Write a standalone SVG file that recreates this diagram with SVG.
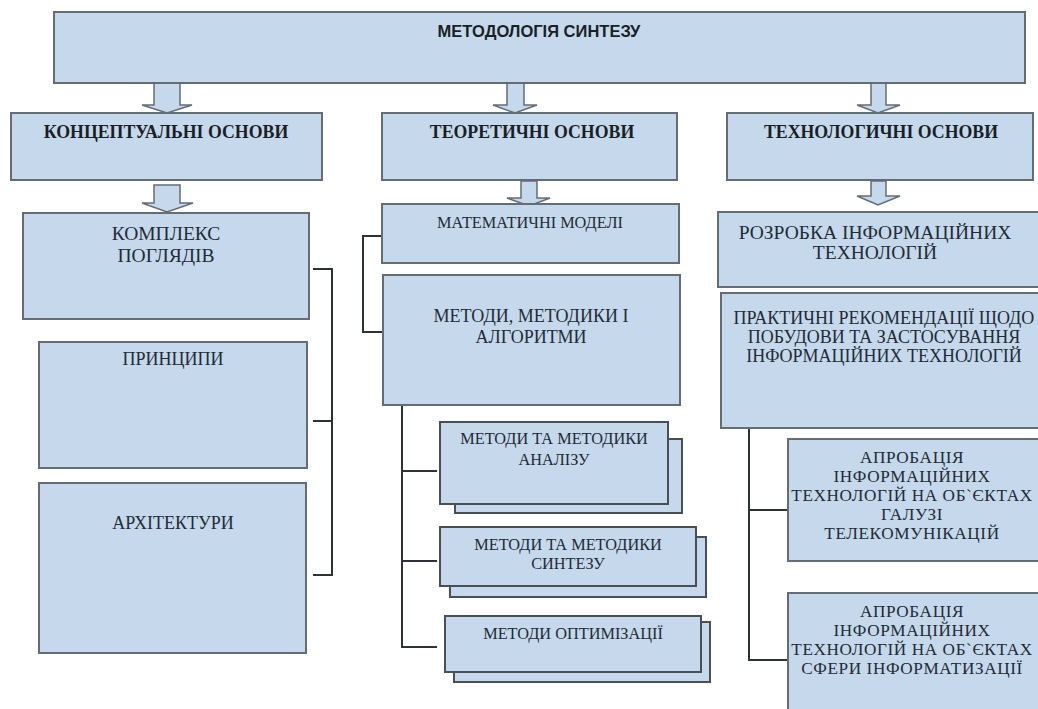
<svg xmlns="http://www.w3.org/2000/svg" width="1038" height="709" viewBox="0 0 1038 709">
  <style>
    .box { fill: #c6d9ec; stroke: #656c74; stroke-width: 2; }
    .stack { fill: #c6d9ec; stroke: #4a4f55; stroke-width: 2; }
    .arrow { fill: #c6d9ec; stroke: #656c74; stroke-width: 1.5; stroke-linejoin: miter; }
    .link { fill: none; stroke: #2e3236; stroke-width: 2; }
    .title { font-family: "Liberation Sans", Arial, sans-serif; font-weight: bold; font-size: 16.5px; fill: #1a1f26; text-anchor: middle; }
    .head { font-family: "Liberation Serif", "Times New Roman", serif; font-weight: bold; font-size: 17.8px; fill: #1a1f26; text-anchor: middle; }
    .lbl { font-family: "Liberation Serif", "Times New Roman", serif; font-size: 18px; fill: #222b36; text-anchor: middle; }
    .lg { font-size: 19.5px; }
    .md { font-size: 17.2px; letter-spacing: 0.6px; }
    .sm { font-size: 16.3px; }
  </style>

  <rect width="1038" height="709" fill="#ffffff"/>

  <!-- block arrows between levels -->
  <g id="arrows">
    <path class="arrow" d="M154,83 H180 V105 H192 L167,113 L142,105 H154 Z"/>
    <path class="arrow" d="M507,83 H524 V105 H537 L515,113 L493,105 H507 Z"/>
    <path class="arrow" d="M871,83 H886 V105 H900 L878,113 L857,105 H871 Z"/>
    <path class="arrow" d="M154,185 H180 V203 H193 L167,212 L142,203 H154 Z"/>
    <path class="arrow" d="M521,181 H537 V198 H550 L529,206 L507,198 H521 Z"/>
    <path class="arrow" d="M871,181 H886 V196 H900 L878,205 L857,196 H871 Z"/>
  </g>

  <!-- bracket connectors -->
  <g id="connectors">
    <path class="link" d="M313,269 H332 V575 H313 M313,421 H332"/>
    <path class="link" d="M382,236 H363 V332 H382"/>
    <path class="link" d="M402,405 V647 H437 M402,471 H437 M402,561 H437"/>
    <path class="link" d="M749,428 V660 H787 M749,510 H787"/>
  </g>

  <g id="methodology">
    <rect class="box" x="54" y="12" width="971" height="71"/>
    <text class="title" x="539" y="37">МЕТОДОЛОГІЯ СИНТЕЗУ</text>
  </g>

  <g id="conceptual">
    <rect class="box" x="11" y="113" width="311" height="67"/>
    <text class="head" x="166" y="138">КОНЦЕПТУАЛЬНІ ОСНОВИ</text>
  </g>
  <g id="theoretical">
    <rect class="box" x="382" y="113" width="295" height="67"/>
    <text class="head" x="532" y="138">ТЕОРЕТИЧНІ ОСНОВИ</text>
  </g>
  <g id="technological">
    <rect class="box" x="727" y="113" width="306" height="67"/>
    <text class="head" x="881" y="138">ТЕХНОЛОГИЧНІ ОСНОВИ</text>
  </g>

  <g id="views">
    <rect class="box" x="23" y="213" width="286" height="106"/>
    <text class="lbl lg" x="166" y="240">КОМПЛЕКС</text>
    <text class="lbl lg" x="166" y="262">ПОГЛЯДІВ</text>
  </g>
  <g id="principles">
    <rect class="box" x="39" y="342" width="268" height="126"/>
    <text class="lbl" x="173" y="365">ПРИНЦИПИ</text>
  </g>
  <g id="architectures">
    <rect class="box" x="39" y="483" width="267" height="170"/>
    <text class="lbl" x="173" y="529">АРХІТЕКТУРИ</text>
  </g>

  <g id="math-models">
    <rect class="box" x="382" y="204" width="297" height="59"/>
    <text class="lbl sm" x="530" y="228">МАТЕМАТИЧНІ МОДЕЛІ</text>
  </g>
  <g id="methods">
    <rect class="box" x="383" y="275" width="297" height="130"/>
    <text class="lbl" x="531" y="322">МЕТОДИ, МЕТОДИКИ І</text>
    <text class="lbl" x="531" y="343">АЛГОРИТМИ</text>
  </g>
  <g id="analysis">
    <rect class="stack" x="455" y="439" width="227" height="74"/>
    <rect class="stack" x="440" y="422" width="228" height="82"/>
    <text class="lbl sm" x="554" y="444">МЕТОДИ ТА МЕТОДИКИ</text>
    <text class="lbl sm" x="554" y="465">АНАЛІЗУ</text>
  </g>
  <g id="synthesis">
    <rect class="stack" x="450" y="537" width="256" height="60"/>
    <rect class="stack" x="440" y="527" width="256" height="59"/>
    <text class="lbl sm" x="568" y="550">МЕТОДИ ТА МЕТОДИКИ</text>
    <text class="lbl sm" x="568" y="569">СИНТЕЗУ</text>
  </g>
  <g id="optimization">
    <rect class="stack" x="454" y="622" width="256" height="60"/>
    <rect class="stack" x="445" y="616" width="256" height="56"/>
    <text class="lbl sm" x="573" y="639">МЕТОДИ ОПТИМІЗАЦІЇ</text>
  </g>

  <g id="it-development">
    <rect class="box" x="718" y="212" width="330" height="75"/>
    <text class="lbl lg" x="875" y="239">РОЗРОБКА ІНФОРМАЦІЙНИХ</text>
    <text class="lbl lg" x="875" y="259">ТЕХНОЛОГІЙ</text>
  </g>
  <g id="recommendations">
    <rect class="box" x="721" y="293" width="330" height="135"/>
    <text class="lbl" x="884" y="324">ПРАКТИЧНІ РЕКОМЕНДАЦІЇ ЩОДО</text>
    <text class="lbl" x="884" y="343">ПОБУДОВИ ТА ЗАСТОСУВАННЯ</text>
    <text class="lbl" x="884" y="362">ІНФОРМАЦІЙНИХ ТЕХНОЛОГІЙ</text>
  </g>
  <g id="telecom">
    <rect class="box" x="788" y="439" width="260" height="122"/>
    <text class="lbl md" x="912" y="463">АПРОБАЦІЯ</text>
    <text class="lbl md" x="912" y="482">ІНФОРМАЦІЙНИХ</text>
    <text class="lbl md" x="912" y="501">ТЕХНОЛОГІЙ НА ОБ`ЄКТАХ</text>
    <text class="lbl md" x="912" y="520">ГАЛУЗІ</text>
    <text class="lbl md" x="912" y="539">ТЕЛЕКОМУНІКАЦІЙ</text>
  </g>
  <g id="informatization">
    <rect class="box" x="788" y="593" width="260" height="130"/>
    <text class="lbl md" x="912" y="617">АПРОБАЦІЯ</text>
    <text class="lbl md" x="912" y="636">ІНФОРМАЦІЙНИХ</text>
    <text class="lbl md" x="912" y="655">ТЕХНОЛОГІЙ НА ОБ`ЄКТАХ</text>
    <text class="lbl md" x="912" y="674">СФЕРИ ІНФОРМАТИЗАЦІЇ</text>
  </g>
</svg>
